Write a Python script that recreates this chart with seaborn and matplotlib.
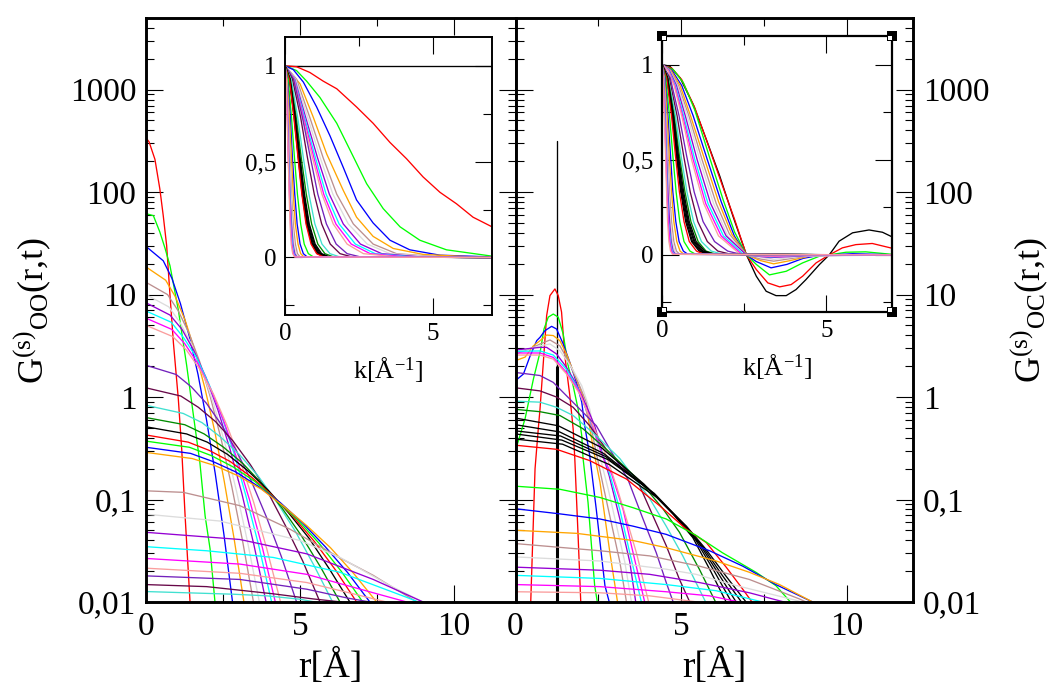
import numpy as np
import matplotlib
matplotlib.use("Agg")
import matplotlib.pyplot as plt
from matplotlib.ticker import LogLocator, NullFormatter
import seaborn as sns

BLACK = '#000000'
RED = '#ff0000'
GREEN = '#00ff00'
BLUE = '#0000ff'
ORANGE = '#ffa500'
BROWN = '#bc8f8f'
GREY = '#dcdcdc'
VIOLET = '#9400d3'
CYAN = '#00ffff'
MAGENTA = '#ff00ff'
SALMON = '#fa9d9d'
INDIGO = '#7221bc'
MAROON = '#670748'
TURQ = '#40e0d0'
GREEN4 = '#008b00'

# G is given as log10(G)
oo_colors = [RED, GREEN, BLUE, ORANGE, BROWN, GREY, VIOLET, CYAN, MAGENTA, SALMON,
             INDIGO, MAROON, TURQ, GREEN4, BLACK, RED, GREEN, BLUE, ORANGE,
             BROWN, GREY, VIOLET, CYAN, MAGENTA, SALMON, INDIGO, MAROON, TURQ]
oo_r = [
    [0, .1, .29, .45, .56, .67, .78, .89, 1.05, 1.16, 1.27, 1.43],
    [0, .24, .45, .62, .78, 1.05, 1.32, 1.55, 1.75, 1.92, 2.08, 2.24],
    [0, .56, .84, 1.12, 1.4, 1.69, 1.97, 2.25, 2.53, 2.81],
    [0, .64, .95, 1.27, 1.59, 1.91, 2.23, 2.54, 2.86, 3.18],
    [0, .7, 1.05, 1.4, 1.75, 2.09, 2.44, 2.79, 3.14, 3.49],
    [0, .74, 1.1, 1.47, 1.84, 2.21, 2.58, 2.94, 3.31, 3.68],
    [0, .78, 1.17, 1.56, 1.95, 2.34, 2.73, 3.12, 3.51, 3.9],
    [0, .82, 1.22, 1.63, 2.04, 2.45, 2.86, 3.26, 3.67, 4.08],
    [0, .84, 1.26, 1.68, 2.1, 2.52, 2.94, 3.36, 3.78, 4.2],
    [0, .87, 1.31, 1.75, 2.19, 2.62, 3.06, 3.5, 3.93, 4.37],
    [0, .98, 1.47, 1.96, 2.45, 2.93, 3.42, 3.91, 4.4, 4.89],
    [0, 1.13, 1.7, 2.26, 2.83, 3.39, 3.96, 4.52, 5.09, 5.65],
    [0, 1.21, 1.82, 2.42, 3.03, 3.64, 4.24, 4.85, 5.45, 6.06],
    [0, 1.26, 1.89, 2.52, 3.15, 3.78, 4.41, 5.04, 5.67, 6.3],
    [0, 1.32, 1.99, 2.65, 3.31, 3.97, 4.63, 5.3, 5.96, 6.62],
    [0, 1.37, 2.05, 2.74, 3.42, 4.1, 4.79, 5.47, 6.16, 6.84],
    [0, 1.41, 2.11, 2.82, 3.52, 4.22, 4.93, 5.63, 6.34, 7.04],
    [0, 1.45, 2.18, 2.91, 3.64, 4.36, 5.09, 5.82, 6.54, 7.27],
    [0, 1.5, 2.25, 3, 3.75, 4.49, 5.24, 5.99, 6.74, 7.49],
    [0, 1.21, 3.05, 4.68, 6.3, 7.38, 8.03, 8.8],
    [0, 2.4, 5, 6.3, 7.92, 9],
    [0, 3.05, 5.22, 7.38, 9],
    [0, 1.97, 4.13, 6.3, 8.47, 8.84],
    [0, 3.05, 5.22, 7.38, 8.47],
    [0, 3.05, 5.22, 6.73, 7.81],
    [0, 3.05, 5.22, 6.52, 7.27],
    [0, 1.97, 4.13, 5.43, 6.35],
    [0, 1.75, 2.83, 3.93, 5, 5.49],
]
oo_log_g = [
    [2.53, 2.49, 2.32, 2.03, 1.77, 1.48, .99, .53, -.02, -.51, -1.16, -2],
    [1.79, 1.77, 1.61, 1.45, 1.28, .85, .31, -.2, -.64, -1.16, -1.48, -2],
    [1.47, 1.33, 1.16, .91, .6, .22, -.23, -.75, -1.34, -2],
    [1.27, 1.14, .98, .75, .45, .09, -.33, -.82, -1.38, -2],
    [1.12, 1, .84, .62, .34, 0, -.41, -.88, -1.41, -2],
    [1, .88, .73, .52, .25, -.08, -.47, -.92, -1.43, -2],
    [.92, .8, .66, .45, .19, -.13, -.51, -.95, -1.45, -2],
    [.84, .73, .58, .39, .13, -.18, -.55, -.98, -1.46, -2],
    [.77, .66, .52, .33, .08, -.23, -.59, -1, -1.47, -2],
    [.7, .59, .46, .27, .03, -.27, -.62, -1.03, -1.49, -2],
    [.31, .22, .1, -.06, -.27, -.52, -.82, -1.17, -1.56, -2],
    [.09, .01, -.1, -.24, -.43, -.66, -.93, -1.25, -1.6, -2],
    [-.08, -.16, -.25, -.39, -.56, -.77, -1.02, -1.31, -1.64, -2],
    [-.2, -.27, -.36, -.49, -.65, -.85, -1.08, -1.35, -1.66, -2],
    [-.29, -.36, -.44, -.56, -.72, -.91, -1.13, -1.38, -1.68, -2],
    [-.37, -.44, -.52, -.63, -.78, -.96, -1.17, -1.41, -1.69, -2],
    [-.43, -.49, -.57, -.68, -.82, -1, -1.2, -1.43, -1.7, -2],
    [-.49, -.55, -.63, -.73, -.87, -1.03, -1.23, -1.46, -1.71, -2],
    [-.54, -.6, -.67, -.77, -.9, -1.07, -1.26, -1.47, -1.72, -2],
    [-.915, -.93, -1.06, -1.29, -1.57, -1.74, -1.86, -2],
    [-1.143, -1.21, -1.4, -1.565, -1.84, -2],
    [-1.32, -1.39, -1.53, -1.78, -2],
    [-1.46, -1.5, -1.565, -1.71, -1.955, -2],
    [-1.575, -1.63, -1.73, -1.91, -2],
    [-1.67, -1.72, -1.81, -1.92, -2],
    [-1.745, -1.78, -1.875, -1.96, -2],
    [-1.83, -1.85, -1.92, -1.97, -2],
    [-1.898, -1.914, -1.924, -1.94, -1.973, -2],
]

# right panel
oc_spike_r = [1.24, 1.24]
oc_spike_log_g = [2.5, -2]
oc_spike_low_log_g = [.29, -2]
oc_colors = [RED, GREEN, BLUE, ORANGE, BROWN, GREY, VIOLET, CYAN, MAGENTA, SALMON,
             INDIGO, MAROON, TURQ, GREEN4, BLACK, BLACK, BLACK, BLACK, BLACK, RED,
             GREEN, BLUE, ORANGE, BROWN, GREY, VIOLET, CYAN, MAGENTA, SALMON]
oc_r = [
    [.46, .59, .69, .74, .84, .94, 1.04, 1.19, 1.29, 1.39, 1.49, 1.64, 1.74, 1.79, 1.89, 1.97],
    [0, .29, .54, .75, .86, .99, 1.14, 1.29, 1.44, 1.59, 1.74, 1.89, 2, 2.04, 2.19, 2.39, 2.47],
    [0, .24, .44, .64, .74, .89, 1.09, 1.24, 1.44, 1.64, 1.84, 2, 2.09, 2.24, 2.44, 2.7, 2.83],
    [0, .29, .54, .74, .94, 1.14, 1.34, 1.54, 1.79, 2, 2.2, 2.35, 2.55, 2.85, 3.08],
    [0, .54, .74, 1.04, 1.34, 1.59, 1.89, 2.14, 2.39, 2.65, 3.15, 3.35],
    [0, .74, 1.04, 1.34, 1.69, 2, 2.24, 2.49, 2.8, 3.3, 3.5],
    [0, .74, .94, 1.24, 1.54, 1.84, 2.14, 2.39, 2.64, 2.83, 3.15, 3.45, 3.63],
    [0, .74, 1.14, 1.54, 1.89, 2.24, 2.6, 2.8, 3.15, 3.45, 3.8],
    [0, .74, 1.14, 1.54, 1.94, 2.29, 2.64, 2.9, 3.25, 3.55, 3.9],
    [0, .74, 1.14, 1.54, 1.94, 2.34, 2.74, 3.05, 3.35, 3.65, 3.85, 4.02],
    [0, .74, 1.14, 1.64, 2.04, 2.44, 2.85, 3.39, 3.85, 4.25, 4.55, 4.76],
    [0, .74, 1.24, 1.74, 2.24, 2.74, 3.7, 4.15, 4.55, 4.95, 5.26],
    [0, .74, 1.24, 1.74, 2.44, 3.15, 4.05, 4.55, 5.05, 5.74],
    [0, .74, 1.34, 2.04, 2.74, 3.75, 4.45, 4.95, 5.55, 6.04],
    [0, 1.29, 2.58, 3.88, 4.75, 5.35, 5.86, 6.36],
    [0, 1.33, 2.66, 4, 4.85, 5.45, 6, 6.52],
    [0, 1.36, 2.72, 4.09, 4.95, 5.55, 6.1, 6.66],
    [0, 1.4, 2.79, 4.19, 5.05, 5.65, 6.22, 6.82],
    [0, 1.42, 2.84, 4.27, 5.16, 5.76, 6.36, 6.96],
    [0, 1.24, 2.24, 3.35, 4.35, 5.16, 5.76, 6.36, 6.86, 7.14],
    [0, 1.34, 2.55, 3.55, 4.55, 5.45, 6.25, 7.26, 7.86, 8.3],
    [0, 1.34, 2.55, 3.55, 4.55, 5.86, 6.86, 7.86, 8.97],
    [0, 1.84, 3.55, 4.55, 6.06, 7.06, 7.97, 8.97],
    [0, 2.55, 4.05, 5.55, 7.06, 8.57, 8.77],
    [0, 2.55, 4.55, 5.45, 6.55, 8.67],
    [0, 2.55, 4.05, 5.55, 7.06, 8.11],
    [0, 2.55, 4.55, 6.06, 7.46],
    [0, 2.55, 4.55, 5.86, 6.76],
    [0, 2.55, 4.05, 5.5],
]
oc_log_g = [
    [-2, -.7, -.3, -.117, .338, .794, .99, 1.055, .99, .83, .4, .013, -.31, -.6, -1.355, -2],
    [-.52, -.21, .175, .45, .664, .78, .81, .78, .615, .306, .11, -.117, -.378, -.6, -1.03, -1.84, -2],
    [.16, .225, .4, .55, .583, .648, .69, .664, .518, .338, .143, -.05, -.28, -.57, -1.1, -1.84, -2],
    [.355, .39, .5, .55, .605, .6, .55, .42, .21, .045, -.215, -.51, -.83, -1.52, -2],
    [.42, .485, .518, .557, .5, .355, .143, -.05, -.47, -.87, -1.61, -2],
    [.435, .5, .518, .453, .29, .11, -.117, -.51, -.9, -1.61, -2],
    [.459, .485, .485, .42, .29, .125, -.085, -.28, -.57, -.77, -1.19, -1.61, -2],
    [.446, .45, .41, .27, .078, -.215, -.54, -.7, -1.1, -1.52, -2],
    [.43, .43, .387, .24, .045, -.248, -.59, -.75, -1.1, -1.52, -2],
    [.41, .41, .37, .225, .03, -.28, -.57, -.87, -1.19, -1.52, -1.78, -2],
    [.24, .21, .143, -.02, -.15, -.28, -.51, -.8, -1.19, -1.52, -1.81, -2],
    [.09, .06, 0, -.1, -.28, -.51, -.83, -1.16, -1.45, -1.78, -2],
    [-.04, -.05, -.1, -.18, -.378, -.6, -.99, -1.26, -1.55, -2],
    [-.12, -.143, -.18, -.31, -.51, -.82, -1.09, -1.32, -1.68, -2],
    [-.205, -.28, -.49, -.85, -1.14, -1.37, -1.68, -2],
    [-.27, -.34, -.55, -.89, -1.17, -1.4, -1.7, -2],
    [-.33, -.38, -.58, -.92, -1.2, -1.43, -1.71, -2],
    [-.36, -.42, -.61, -.94, -1.23, -1.46, -1.73, -2],
    [-.41, -.46, -.66, -.98, -1.26, -1.49, -1.75, -2],
    [-.47, -.51, -.62, -.8, -1.06, -1.29, -1.42, -1.66, -1.875, -2],
    [-.87, -.9, -.98, -1.08, -1.19, -1.35, -1.52, -1.71, -1.84, -2],
    [-1.09, -1.14, -1.19, -1.26, -1.34, -1.5, -1.65, -1.83, -2],
    [-1.3, -1.33, -1.4, -1.47, -1.6, -1.71, -1.83, -2],
    [-1.43, -1.5, -1.55, -1.65, -1.78, -1.97, -2],
    [-1.56, -1.6, -1.68, -1.73, -1.83, -2],
    [-1.66, -1.69, -1.73, -1.81, -1.91, -2],
    [-1.74, -1.77, -1.83, -1.89, -2],
    [-1.83, -1.85, -1.9, -1.94, -2],
    [-1.9, -1.91, -1.94, -2],
]

# insets: narrow curves share the same value levels, so only k is listed
inset_levels = [1, .93, .73, .52, .33, .175, .07, .02, .003, 0]

soo_flat_k = [0, 7]
soo_flat_v = [1, 1]
soo_wide_colors = [RED, GREEN, BLUE, ORANGE]
soo_wide_k = [
    [0, .39, .84, 1.29, 1.75, 2.42, 2.98, 3.55, 4.11, 4.67, 5.24, 5.8, 6.36, 7],
    [0, .39, .73, 1.18, 1.75, 2.2, 2.76, 3.32, 3.89, 4.56, 5.46, 7],
    [0, .28, .62, 1.07, 1.52, 1.97, 2.42, 2.98, 3.55, 4.22, 5.24, 7],
    [0, .51, .96, 1.41, 1.97, 2.42, 2.98, 3.66, 4.67, 6.36],
]
soo_wide_v = [
    [1, .995, .965, .92, .88, .785, .7, .6, .515, .42, .34, .28, .21, .16],
    [1, .975, .92, .835, .7, .56, .385, .255, .16, .09, .04, .007],
    [1, .98, .915, .785, .635, .47, .3, .18, .09, .04, .012, .003],
    [1, .905, .73, .54, .35, .21, .11, .047, .016, .003],
]
soo_narrow_colors = [BROWN, GREY, VIOLET, CYAN, MAGENTA, SALMON, INDIGO, MAROON, TURQ, GREEN4,
                     BLACK, BLACK, BLACK, BLACK, BLACK, RED, GREEN, BLUE, ORANGE, BROWN,
                     GREY, VIOLET, CYAN, MAGENTA, SALMON]
soo_narrow_k = [
    [0, .39, .84, 1.29, 1.75, 2.31, 2.98, 3.77, 5.24, 7],
    [0, .36, .77, 1.19, 1.62, 2.14, 2.78, 3.55, 5, 7],
    [0, .33, .7, 1.1, 1.5, 1.97, 2.55, 3.27, 4.6, 7],
    [0, .32, .66, 1.03, 1.39, 1.83, 2.38, 3.05, 4.3, 7],
    [0, .31, .63, .98, 1.31, 1.72, 2.24, 2.88, 4.1, 7],
    [0, .3, .6, .93, 1.25, 1.63, 2.1, 2.65, 3.8, 7],
    [0, .29, .59, .86, 1.11, 1.4, 1.73, 2.1, 2.55, 7],
    [0, .25, .53, .76, .99, 1.24, 1.53, 1.86, 2.26, 7],
    [0, .21, .43, .62, .81, 1.01, 1.25, 1.52, 1.85, 7],
    [0, .18, .38, .55, .72, .9, 1.11, 1.35, 1.64, 7],
    [0, .17, .35, .51, .66, .82, 1.02, 1.24, 1.51, 7],
    [0, .16, .34, .49, .64, .8, .99, 1.2, 1.46, 7],
    [0, .16, .33, .47, .61, .77, .96, 1.16, 1.41, 7],
    [0, .15, .32, .46, .6, .75, .93, 1.13, 1.37, 7],
    [0, .15, .31, .45, .58, .73, .91, 1.1, 1.34, 7],
    [0, .15, .3, .44, .57, .71, .88, 1.07, 1.3, 7],
    [0, .11, .22, .32, .42, .53, .65, .79, .96, 7],
    [0, .08, .18, .25, .33, .41, .51, .62, .75, 7],
    [0, .07, .15, .22, .28, .35, .44, .53, .64, 7],
    [0, .06, .12, .17, .22, .28, .35, .42, .51, 7],
    [0, .05, .1, .15, .2, .25, .31, .37, .45, 7],
    [0, .04, .09, .13, .17, .22, .27, .33, .4, 7],
    [0, .04, .08, .12, .16, .2, .25, .3, .36, 7],
    [0, .04, .08, .11, .15, .19, .23, .28, .34, 7],
    [0, .04, .07, .11, .14, .17, .21, .26, .32, 7],
]

soc_wide_colors = [BLACK, RED, GREEN, BLUE, ORANGE, BROWN, GREY, VIOLET, CYAN, MAGENTA, SALMON]
soc_wide_k = [
    [0, .24, .55, .95, 1.35, 1.76, 2.16, 2.57, 2.87, 3.17, 3.47, 3.78, 4.08, 4.38, 4.79, 5.09, 5.39, 5.8, 6.3, 6.71, 7],
    [0, .29, .6, 1, 1.4, 1.81, 2.21, 2.57, 2.87, 3.22, 3.58, 3.93, 4.28, 4.69, 5.09, 5.49, 5.9, 6.4, 7],
    [0, .34, .65, 1, 1.47, 1.86, 2.21, 2.57, 2.87, 3.27, 3.78, 4.28, 4.79, 5.09, 5.6, 6.2, 7],
    [0, .3, .6, .95, 1.38, 1.8, 2.2, 2.57, 2.87, 3.32, 3.8, 4.3, 4.8, 5.09, 5.8, 7],
    [0, .27, .55, .87, 1.3, 1.72, 2.12, 2.57, 3, 3.4, 3.9, 4.5, 5.09, 7],
    [0, .25, .5, .82, 1.22, 1.65, 2.05, 2.57, 3, 3.4, 3.9, 4.5, 7],
    [0, .23, .47, .77, 1.15, 1.57, 2, 2.57, 3.4, 4.2, 7],
    [0, .22, .44, .71, 1.07, 1.48, 1.95, 2.57, 3.3, 4.4, 7],
    [0, .2, .41, .66, 1, 1.4, 1.87, 2.5, 3.3, 4.4, 7],
    [0, .19, .39, .63, .95, 1.33, 1.8, 2.45, 3.3, 4.4, 7],
    [0, .18, .37, .6, .9, 1.27, 1.72, 2.4, 3.3, 4.8, 7],
]
soc_wide_v = [
    [1, .991, .93, .79, .606, .413, .203, 0, -.112, -.191, -.214, -.214, -.182, -.13, -.051, 0, .072, .116, .131, .119, .095],
    [.995, .982, .921, .772, .58, .378, .186, 0, -.077, -.147, -.168, -.156, -.112, -.042, 0, .037, .054, .06, .035],
    [.995, .974, .904, .76, .5, .29, .12, 0, -.05, -.105, -.086, -.042, -.007, 0, .014, .016, .003],
    [1, .97, .89, .73, .5, .28, .1, 0, -.035, -.068, -.05, -.018, -.002, 0, .006, .001],
    [1, .97, .89, .73, .5, .28, .11, 0, -.03, -.047, -.03, -.006, 0, 0],
    [1, .97, .89, .73, .5, .27, .11, 0, -.022, -.033, -.02, -.004, 0],
    [1, .97, .89, .73, .5, .27, .1, 0, -.024, -.008, 0],
    [1, .97, .89, .73, .5, .27, .1, 0, -.014, -.004, 0],
    [1, .97, .89, .73, .5, .27, .1, 0, -.01, -.002, 0],
    [1, .97, .89, .73, .5, .27, .1, 0, -.008, -.002, 0],
    [1, .97, .89, .73, .5, .27, .1, 0, -.006, 0, 0],
]
soc_narrow_colors = [INDIGO, MAROON, TURQ, GREEN4, BLACK, BLACK, BLACK, BLACK, BLACK, RED,
                     GREEN, BLUE, ORANGE, BROWN, GREY, VIOLET, CYAN, MAGENTA, SALMON]
soc_narrow_k = [
    [0, .25, .52, .75, .98, 1.25, 1.6, 2, 2.4, 7],
    [0, .22, .46, .66, .86, 1.09, 1.38, 1.7, 2.1, 7],
    [0, .19, .41, .58, .76, .96, 1.2, 1.5, 1.85, 7],
    [0, .18, .37, .53, .7, .88, 1.1, 1.34, 1.65, 7],
    [0, .17, .35, .5, .66, .83, 1.04, 1.3, 1.58, 7],
    [0, .16, .34, .48, .63, .8, 1, 1.25, 1.52, 7],
    [0, .16, .33, .47, .61, .78, .97, 1.21, 1.47, 7],
    [0, .15, .32, .45, .59, .75, .93, 1.17, 1.42, 7],
    [0, .15, .31, .44, .57, .72, .9, 1.13, 1.37, 7],
    [0, .14, .29, .41, .53, .67, .83, 1.05, 1.28, 7],
    [0, .11, .23, .33, .43, .54, .67, .85, 1.03, 7],
    [0, .09, .18, .26, .33, .42, .52, .65, .79, 7],
    [0, .075, .155, .22, .29, .36, .45, .55, .67, 7],
    [0, .06, .12, .18, .23, .29, .36, .44, .54, 7],
    [0, .055, .11, .16, .2, .26, .32, .39, .47, 7],
    [0, .05, .1, .14, .18, .23, .28, .34, .41, 7],
    [0, .045, .09, .13, .16, .2, .26, .31, .38, 7],
    [0, .04, .08, .12, .15, .19, .24, .29, .35, 7],
    [0, .035, .07, .11, .14, .17, .21, .26, .32, 7],
]

main_yticks = [1000, 100, 10, 1, .1, .01]
main_ylabels = ['1000', '100', '10', '1', '0,1', '0,01']
main_xticks = [0, 5, 10]
inset_yticks = [0, .5, 1]
inset_ylabels = ['0', '0,5', '1']

W, H = 1063, 699
LINE = 0.95


def box(left, top, right, bottom):
    return [left / W, 1 - bottom / H, (right - left) / W, (bottom - top) / H]


def draw(ax, x, y, color, lw=LINE):
    sns.lineplot(x=x, y=y, color=color, linewidth=lw, estimator=None, sort=False, ax=ax, legend=False)


def style_main(ax):
    ax.set_yscale('log')
    ax.set_xlim(0, 12)
    ax.set_ylim(.01, 5000)
    ax.set_xticks(main_xticks)
    ax.set_xticks([2.5, 7.5], minor=True)
    ax.set_yticks(main_yticks, main_ylabels)
    ax.yaxis.set_minor_locator(LogLocator(base=10, subs=np.arange(2, 10), numticks=12))
    ax.yaxis.set_minor_formatter(NullFormatter())
    ax.tick_params(which='major', direction='in', length=12.5, width=.8, top=True, right=True, labelsize=24, pad=7)
    ax.tick_params(which='minor', direction='in', length=6, width=.8, top=True, right=True)
    for sp in ax.spines.values():
        sp.set_linewidth(2.1)
    ax.set_xlabel('r[Å]', fontsize=27, labelpad=5)
    ax.set_ylabel('')


def style_inset(ax, spine_width):
    ax.set_xlim(0, 7)
    ax.set_ylim(-.3, 1.15)
    ax.set_xticks([0, 5])
    ax.set_xticks([2.5], minor=True)
    ax.set_yticks(inset_yticks, inset_ylabels)
    ax.set_yticks([-.25, .25, .75], minor=True)
    ax.tick_params(which='major', direction='in', length=12.5, width=.8, top=True, right=True, labelsize=18, pad=6)
    ax.tick_params(which='minor', direction='in', length=6.3, width=.8, top=True, right=True)
    for sp in ax.spines.values():
        sp.set_linewidth(spine_width)
    ax.set_xlabel('k[Å$^{\\mathregular{-1}}$]', fontsize=19, labelpad=7)
    ax.set_ylabel('')


sns.set_theme(style='ticks', rc={'axes.edgecolor': 'black', 'xtick.color': 'black', 'ytick.color': 'black',
                                 'text.color': 'black', 'axes.labelcolor': 'black'})
plt.rcParams['font.family'] = ['Liberation Serif', 'DejaVu Serif']
plt.rcParams['mathtext.fontset'] = 'custom'
plt.rcParams['mathtext.rm'] = 'Liberation Serif'
plt.rcParams['mathtext.it'] = 'Liberation Serif'
plt.rcParams['mathtext.default'] = 'regular'

fig = plt.figure(figsize=(W / 100, H / 100), dpi=100)
ax_oo = fig.add_axes(box(146, 18, 515.5, 602))
ax_oc = fig.add_axes(box(515.5, 18, 913, 602))
ax_soo = fig.add_axes(box(285, 37, 492, 315))
ax_soc = fig.add_axes(box(662, 36, 892, 312))

ax_oo.set_yscale('log')
ax_oc.set_yscale('log')

for r, lg, c in zip(oo_r, oo_log_g, oo_colors):
    draw(ax_oo, r, 10 ** np.array(lg, dtype=float), c)

draw(ax_oc, oc_spike_r, 10 ** np.array(oc_spike_log_g, dtype=float), BLACK)
draw(ax_oc, oc_spike_r, 10 ** np.array(oc_spike_low_log_g, dtype=float), BLACK, lw=2.2)
for r, lg, c in zip(oc_r, oc_log_g, oc_colors):
    draw(ax_oc, r, 10 ** np.array(lg, dtype=float), c)

style_main(ax_oo)
style_main(ax_oc)
ax_oc.tick_params(which='both', labelleft=False, labelright=True)
ax_oo.tick_params(which='both', labelright=False)

draw(ax_soo, soo_flat_k, soo_flat_v, BLACK)
for k, v, c in zip(soo_wide_k, soo_wide_v, soo_wide_colors):
    draw(ax_soo, k, v, c)
for k, c in zip(soo_narrow_k, soo_narrow_colors):
    draw(ax_soo, k, inset_levels, c)

for k, v, c in zip(soc_wide_k, soc_wide_v, soc_wide_colors):
    draw(ax_soc, k, v, c)
for k, c in zip(soc_narrow_k, soc_narrow_colors):
    draw(ax_soc, k, inset_levels, c)

style_inset(ax_soo, 1.4)
style_inset(ax_soc, 1.6)

# corner handles on the right inset
for cx, cy in [(0, 0), (1, 0), (0, 1), (1, 1)]:
    ax_soc.plot(cx, cy, 's', color=BLACK, ms=7, mew=0, transform=ax_soc.transAxes, clip_on=False, zorder=6)
    ax_soc.plot(cx + (.008 if cx == 0 else -.008), cy + (.007 if cy == 0 else -.007), 's',
                color='white', ms=2.6, mew=0, transform=ax_soc.transAxes, clip_on=False, zorder=7)

fig.text(32 / W, 1 - 310 / H, 'G$^{(s)}$$_{OO}$(r,t)', rotation=90, ha='center', va='center', fontsize=26)
fig.text(1029 / W, 1 - 310 / H, 'G$^{(s)}$$_{OC}$(r,t)', rotation=90, ha='center', va='center', fontsize=26)

fig.savefig('out.png', dpi=100)
